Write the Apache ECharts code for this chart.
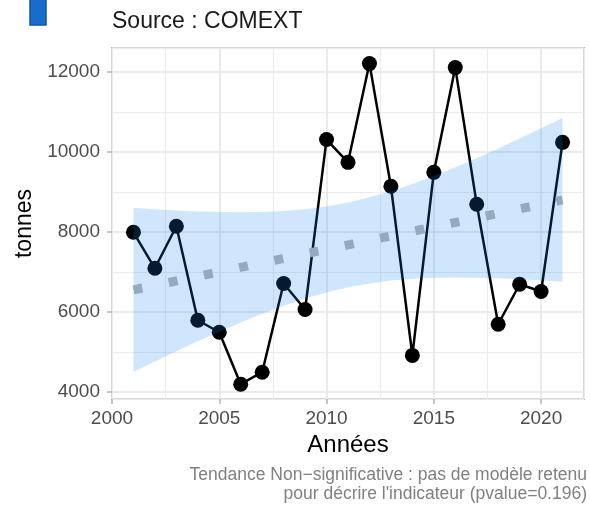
<!DOCTYPE html>
<html>
<head>
<meta charset="utf-8">
<script src="https://cdn.jsdelivr.net/npm/echarts@6/dist/echarts.min.js"></script>
<style>
  html, body { margin: 0; padding: 0; background: #fff; }
  #container { width: 590px; height: 505px; }
</style>
</head>
<body>
<div id="container"></div>
<script>
const years = [2001, 2002, 2003, 2004, 2005, 2006, 2007, 2008, 2009, 2010, 2011,
    2012, 2013, 2014, 2015, 2016, 2017, 2018, 2019, 2020, 2021];

// tonnes per year
const tonnes = [7990, 7090, 8140, 5790, 5490, 4190, 4490, 6710, 6060, 10310, 9740,
    12210, 9140, 4910, 9490, 12110, 8690, 5690, 6690, 6510, 10240];

// confidence band of the trend
const bandLow = [4500, 4760, 5016, 5265, 5505, 5735, 5952, 6153, 6332, 6486, 6613,
    6712, 6782, 6827, 6852, 6861, 6855, 6839, 6816, 6786, 6750];
const bandHigh = [8600, 8564, 8534, 8511, 8495, 8489, 8498, 8523, 8568, 8638, 8737,
    8864, 9018, 9197, 9398, 9615, 9845, 10085, 10334, 10590, 10850];

// dotted trend line ends
const trendYears = [2001, 2021];
const trendValues = [6550, 8800];

const titleText = 'Source : COMEXT';
const captionLines = ['Tendance Non\u2212significative : pas de modèle retenu',
    'pour décrire l\'indicateur (pvalue=0.196)'];

function draw_chart() {
    let dom = document.getElementById("container");
    let myChart = echarts.init(dom, null, {renderer: 'canvas'});
    const font = "'Liberation Sans', Arial, sans-serif";

    const pts = years.map((y, i) => [y, tonnes[i]]);
    const band = years.map((y, i) => [y, bandLow[i], bandHigh[i]]);
    const trend = trendYears.map((y, i) => [y, trendValues[i]]);

    // one polygon for the whole band
    function renderBand(params, api) {
        if (params.dataIndex !== 0) return;
        let top = band.map(d => api.coord([d[0], d[2]]));
        let bottom = band.map(d => api.coord([d[0], d[1]])).reverse();
        return {
            type: 'polygon',
            shape: {points: top.concat(bottom)},
            style: {fill: 'rgba(20,130,240,0.2)'}
        };
    }

    let option = {
        animation: false,
        textStyle: {fontFamily: font},
        title: {
            text: titleText,
            left: 112,
            top: 10,
            padding: 0,
            textStyle: {fontFamily: font, fontSize: 23, fontWeight: 'normal', color: '#1a1a1a'}
        },
        graphic: [
            {
                type: 'rect',
                shape: {x: 30, y: -3, width: 16, height: 28},
                style: {fill: '#1a6ccc', stroke: '#0f55a5', lineWidth: 1.5}
            },
            {
                type: 'text',
                right: 3,
                top: 466,
                style: {text: captionLines[0], font: '17.5px ' + font, fill: '#808080'}
            },
            {
                type: 'text',
                right: 3,
                top: 485,
                style: {text: captionLines[1], font: '17.5px ' + font, fill: '#808080'}
            }
        ],
        grid: {
            left: 112,
            right: 6,
            top: 48,
            bottom: 106,
            show: true,
            borderColor: '#b3b3b3',
            borderWidth: 2,
            backgroundColor: 'transparent'
        },
        xAxis: [
            {
                type: 'value',
                min: 2000,
                max: 2022,
                interval: 5,
                name: 'Années',
                nameLocation: 'middle',
                nameGap: 33,
                nameTextStyle: {fontFamily: font, fontSize: 24, color: '#000'},
                axisLine: {show: false},
                axisTick: {show: true, length: 5, lineStyle: {color: '#b3b3b3', width: 1.5}},
                axisLabel: {fontFamily: font, fontSize: 19, color: '#4d4d4d', margin: 10,
                    showMinLabel: true, showMaxLabel: false,
                    formatter: v => (v % 5 === 0 ? String(v) : '')},
                splitLine: {show: true, lineStyle: {color: '#e3e3e3', width: 1.5}}
            },
            {
                type: 'value',
                min: 2000,
                max: 2022,
                interval: 2.5,
                position: 'bottom',
                axisLine: {show: false},
                axisTick: {show: false},
                axisLabel: {show: false},
                splitLine: {show: true, lineStyle: {color: '#ebebeb', width: 1}}
            }
        ],
        yAxis: [
            {
                type: 'value',
                min: 3820,
                max: 12600,
                splitNumber: 5,
                name: 'tonnes',
                nameLocation: 'middle',
                nameGap: 58,
                nameRotate: 90,
                nameTextStyle: {fontFamily: font, fontSize: 23, color: '#000'},
                axisLine: {show: false},
                axisTick: {show: true, length: 5, lineStyle: {color: '#b3b3b3', width: 1.5}},
                axisLabel: {fontFamily: font, fontSize: 19, color: '#4d4d4d', margin: 12,
                    showMinLabel: false, showMaxLabel: false,
                    formatter: v => String(v)},
                splitLine: {show: true, lineStyle: {color: '#e3e3e3', width: 1.5}}
            },
            {
                type: 'value',
                min: 3820,
                max: 12600,
                splitNumber: 9,
                axisLine: {show: false},
                axisTick: {show: false},
                axisLabel: {show: false},
                splitLine: {show: true, lineStyle: {color: '#ebebeb', width: 1}}
            }
        ],
        series: [
            {
                name: 'tonnes',
                type: 'line',
                data: pts,
                z: 2,
                symbol: 'circle',
                symbolSize: 15,
                itemStyle: {color: '#000'},
                lineStyle: {color: '#000', width: 2.5}
            },
            {
                name: 'tendance',
                type: 'line',
                data: trend,
                z: 2,
                symbol: 'none',
                lineStyle: {color: '#b4b4b4', width: 9, type: [9, 27], cap: 'butt'}
            },
            {
                name: 'intervalle',
                type: 'custom',
                data: band,
                encode: {x: 0, y: [1, 2]},
                z: 4,
                renderItem: renderBand
            }
        ]
    };

    myChart.setOption(option, true);
}

draw_chart();
</script>
</body>
</html>
